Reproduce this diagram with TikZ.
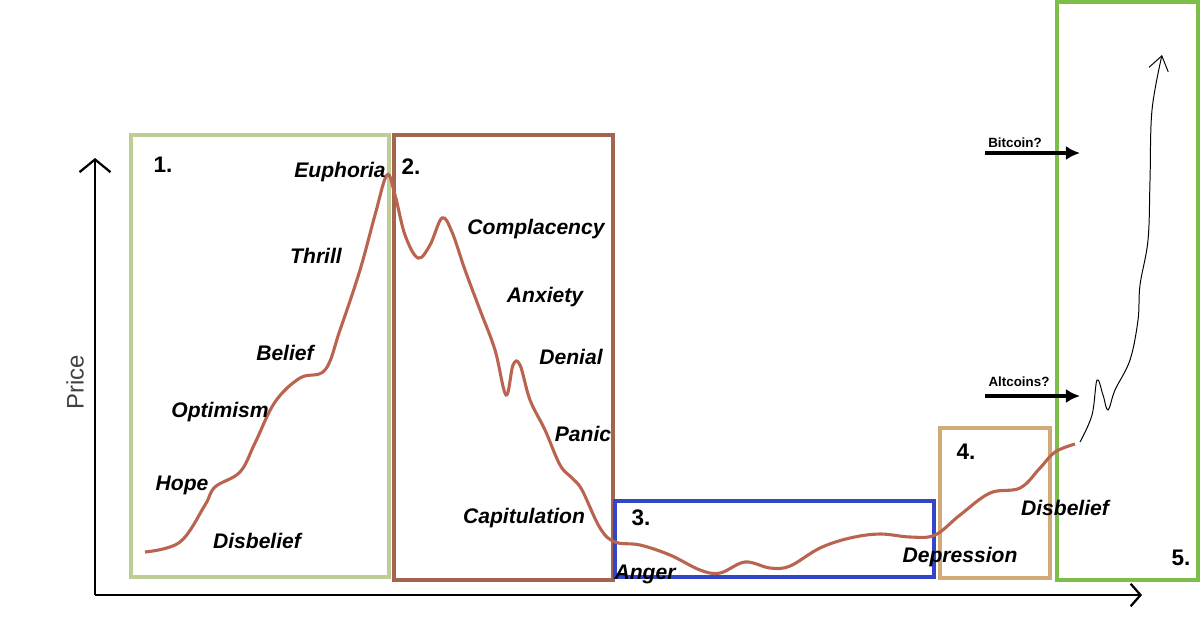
\documentclass[tikz,border=0pt]{standalone}
\usepackage{fontspec}
\setmainfont{Liberation Sans}
\usetikzlibrary{arrows.meta}
\definecolor{curvec}{RGB}{185,100,80}
\definecolor{boxa}{RGB}{190,205,150}
\definecolor{boxb}{RGB}{165,100,80}
\definecolor{boxc}{RGB}{50,70,200}
\definecolor{boxd}{RGB}{210,170,120}
\definecolor{boxe}{RGB}{125,190,75}
\tikzset{lab/.style={font=\fontsize{15}{17}\selectfont\bfseries\itshape,inner sep=0pt},
num/.style={font=\fontsize{16}{18}\selectfont\bfseries,inner sep=0pt},
small/.style={font=\fontsize{9.5}{11}\selectfont\bfseries,inner sep=0pt},
zone/.style={line width=2.2pt}}
\begin{document}
\begin{tikzpicture}[x=0.025cm,y=-0.025cm]
\useasboundingbox (0,0) rectangle (1200,619);
\coordinate (o) at (95,595);
\coordinate (yt) at (95,158);
\coordinate (xt) at (1142,595);
\draw[line width=1.6pt,-{Straight Barb[length=9pt,width=22pt]}] (o) -- (yt);
\draw[line width=1.6pt,-{Straight Barb[length=7pt,width=16pt]}] (o) -- (xt);
\node[rotate=90,font=\fontsize{17}{19}\selectfont,text=black!75] (price) at (75,382) {Price};
\draw[zone,boxa] (131,135) rectangle (389,577);
\draw[zone,boxb] (394,135) rectangle (613,580);
\draw[zone,boxc] (615,501) rectangle (934,577);
\draw[zone,boxd] (940,428) rectangle (1050,578);
\draw[zone,boxe] (1057,2) rectangle (1198,580);
\node[num] (n1) at (163,165) {1.};
\node[num] (n2) at (411,167) {2.};
\node[num] (n3) at (641,518) {3.};
\node[num] (n4) at (966,452) {4.};
\node[num] (n5) at (1181,558) {5.};
\draw[curvec,line width=2.2pt] plot[smooth,tension=0.6] coordinates {(145,552)(180,542)(205,505)(215,487)(240,472)(255,443)(275,402)(300,378)(325,370)(340,330)(360,270)(375,215)(387,175)(395,195)(405,235)(418,258)(430,245)(442,218)(452,232)(465,270)(480,310)(495,350)(506,395)(513,365)(520,365)(530,400)(545,430)(560,465)(572,478)(582,490)(600,528)(615,542)(640,545)(670,555)(700,570)(720,573)(745,562)(770,568)(790,566)(820,548)(850,538)(880,534)(910,537)(935,535)(960,515)(990,493)(1020,488)(1040,468)(1055,452)(1075,444)};
\draw[line width=0.7pt,-{Straight Barb[length=10pt,width=14pt]}] plot[smooth,tension=0.6] coordinates {(1080,442)(1092,415)(1097,380)(1103,395)(1108,410)(1115,390)(1130,360)(1138,320)(1140,285)(1148,240)(1150,180)(1152,110)(1162,55)};
\node[small] (btc) at (1015,143) {Bitcoin?};
\node[small] (alt) at (1019,382) {Altcoins?};
\coordinate (b1) at (985,153); \coordinate (b2) at (1080,153);
\coordinate (a1) at (985,396); \coordinate (a2) at (1080,396);
\draw[line width=2.2pt,-{Latex[length=10pt,width=10pt]}] (b1) -- (b2);
\draw[line width=2.2pt,-{Latex[length=10pt,width=10pt]}] (a1) -- (a2);
\node[lab] (eu) at (340,172) {Euphoria};
\node[lab] (th) at (316,256) {Thrill};
\node[lab] (be) at (285,353) {Belief};
\node[lab] (op) at (220,412) {Optimism};
\node[lab] (ho) at (182,485) {Hope};
\node[lab] (di) at (257,541) {Disbelief};
\node[lab] (co) at (536,229) {Complacency};
\node[lab] (an) at (545,297) {Anxiety};
\node[lab] (de) at (571,357) {Denial};
\node[lab] (pa) at (583,434) {Panic};
\node[lab] (ca) at (524,518) {Capitulation};
\node[lab] (ag) at (645,574) {Anger};
\node[lab] (dp) at (960,557) {Depression};
\node[lab] (d2) at (1065,508) {Disbelief};
\end{tikzpicture}
\end{document}
